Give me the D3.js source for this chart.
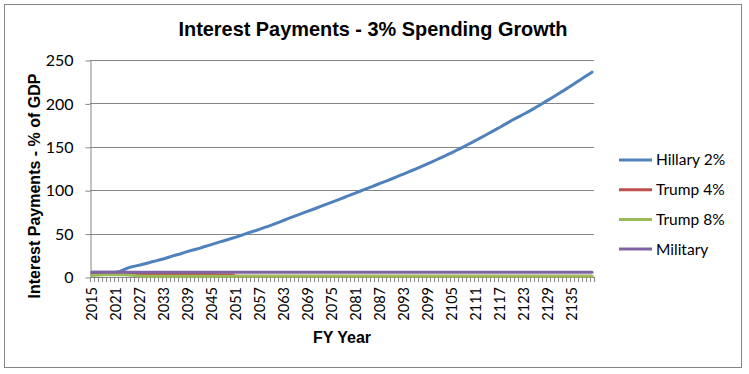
<!DOCTYPE html>
<html>
<head>
<meta charset="utf-8">
<script src="https://cdn.jsdelivr.net/npm/d3@7/dist/d3.min.js"></script>
<style>
 body{margin:0;background:#fff;}
 svg{display:block;}
</style>
</head>
<body>
<div id="chart"></div>
<script>
var years=d3.range(2015,2141);
var yearTicks=[2015,2021,2027,2033,2039,2045,2051,2057,2063,2069,2075,2081,2087,2093,2099,2105,2111,2117,2123,2129,2135];
var valueTicks=[0,50,100,150,200,250];
var seriesNames=["Hillary 2%","Trump 4%","Trump 8%","Military"];
var seriesColors=["#4F81BD","#C0504D","#9BBB59","#8064A2"];

var hillary=[
 5.6,5.5,5.5,5.4,5.5,5.6,5.8,6.5,8.5,10.5,
 11.8,12.8,13.8,15,16.2,17.5,18.6,19.8,21,22.5,
 24,25.3,26.5,28,29.5,30.8,32,33.3,34.8,36.2,
 37.6,39,40.4,41.8,43.2,44.6,46,47.5,49.2,50.8,
 52.2,53.6,55.2,56.8,58.4,60,61.8,63.6,65.4,67.2,
 69,70.7,72.4,74.1,75.8,77.5,79.2,81,82.7,84.5,
 86.3,88,89.8,91.6,93.4,95.2,97,98.8,100.6,102.4,
 104.2,106,107.8,109.6,111.4,113.2,115.1,117,118.9,120.8,
 122.7,124.7,126.7,128.7,130.7,132.7,134.8,136.9,139,141.2,
 143.4,145.7,148,150.3,152.7,155.1,157.5,160,162.5,165,
 167.5,170,172.6,175.2,177.9,180.6,183,185.4,187.8,190.2,
 192.8,195.5,198.2,201,203.8,206.6,209.4,212.2,215,218,
 221,224,227,230,233,236
];
var trump4=[
 3.3,3.4,3.4,3.5,3.5,3.6,3.6,3.7,3.7,3.7,
 3.6,3.6,3.5,3.5,3.4,3.4,3.3,3.3,3.2,3.2,
 3.1,3.1,3.0,3.0,3.0,2.9,2.9,2.9,2.8,2.8,
 2.8,2.7,2.7,2.7,2.6,2.6,0.8,0.8,0.8,0.8,
 0.8,0.8,0.8,0.8,0.8,0.8,0.8,0.8,0.8,0.8,
 0.8,0.8,0.8,0.8,0.8,0.8,0.8,0.8,0.8,0.8,
 0.8,0.8,0.8,0.8,0.8,0.8,0.8,0.8,0.8,0.8,
 0.8,0.8,0.8,0.8,0.8,0.8,0.8,0.8,0.8,0.8,
 0.8,0.8,0.8,0.8,0.8,0.8,0.8,0.8,0.8,0.8,
 0.8,0.8,0.8,0.8,0.8,0.8,0.8,0.8,0.8,0.8,
 0.8,0.8,0.8,0.8,0.8,0.8,0.8,0.8,0.8,0.8,
 0.8,0.8,0.8,0.8,0.8,0.8,0.8,0.8,0.8,0.8,
 0.8,0.8,0.8,0.8,0.8,0.8
];
var trump8=[
 1.6,2.0,2.3,2.5,2.6,2.7,2.7,2.6,2.5,2.3,
 1.9,1.4,1.1,0.9,0.8,0.8,0.8,0.8,0.8,0.8,
 0.8,0.8,0.8,0.8,0.8,0.8,0.8,0.8,0.8,0.8,
 0.8,0.8,0.8,0.8,0.8,0.8,0.8,0.8,0.8,0.8,
 0.8,0.8,0.8,0.8,0.8,0.8,0.8,0.8,0.8,0.8,
 0.8,0.8,0.8,0.8,0.8,0.8,0.8,0.8,0.8,0.8,
 0.8,0.8,0.8,0.8,0.8,0.8,0.8,0.8,0.8,0.8,
 0.8,0.8,0.8,0.8,0.8,0.8,0.8,0.8,0.8,0.8,
 0.8,0.8,0.8,0.8,0.8,0.8,0.8,0.8,0.8,0.8,
 0.8,0.8,0.8,0.8,0.8,0.8,0.8,0.8,0.8,0.8,
 0.8,0.8,0.8,0.8,0.8,0.8,0.8,0.8,0.8,0.8,
 0.8,0.8,0.8,0.8,0.8,0.8,0.8,0.8,0.8,0.8,
 0.8,0.8,0.8,0.8,0.8,0.8
];
var military=[
 5.6,5.6,5.6,5.6,5.6,5.6,5.6,5.6,5.6,5.6,
 5.6,5.6,5.6,5.6,5.6,5.6,5.6,5.6,5.6,5.6,
 5.6,5.6,5.6,5.6,5.6,5.6,5.6,5.6,5.6,5.6,
 5.6,5.6,5.6,5.6,5.6,5.6,5.6,5.6,5.6,5.6,
 5.6,5.6,5.6,5.6,5.6,5.6,5.6,5.6,5.6,5.6,
 5.6,5.6,5.6,5.6,5.6,5.6,5.6,5.6,5.6,5.6,
 5.6,5.6,5.6,5.6,5.6,5.6,5.6,5.6,5.6,5.6,
 5.6,5.6,5.6,5.6,5.6,5.6,5.6,5.6,5.6,5.6,
 5.6,5.6,5.6,5.6,5.6,5.6,5.6,5.6,5.6,5.6,
 5.6,5.6,5.6,5.6,5.6,5.6,5.6,5.6,5.6,5.6,
 5.6,5.6,5.6,5.6,5.6,5.6,5.6,5.6,5.6,5.6,
 5.6,5.6,5.6,5.6,5.6,5.6,5.6,5.6,5.6,5.6,
 5.6,5.6,5.6,5.6,5.6,5.6
];
var seriesValues=[hillary,trump4,trump8,military];

(function()
{
 var W=749,H=374,left=90,right=594,top=60,bottom=277;
 var gray="#868686";
 var svg=d3.select("#chart").append("svg").attr("width",W).attr("height",H);

 // outer chart border
 svg.append("rect").attr("x",4.5).attr("y",4.5).attr("width",737).attr("height",363)
  .attr("fill","#fff").attr("stroke",gray).attr("stroke-width",1);

 var x=d3.scaleBand().domain(years).range([left,right]).padding(0);
 var y=d3.scaleLinear().domain([0,250]).range([bottom,top]);
 var cx=function(yr){return x(yr)+x.bandwidth()/2;};

 // gridlines
 svg.append("g").selectAll("line").data(valueTicks.slice(1)).enter().append("line")
  .attr("x1",left).attr("x2",right).attr("y1",function(d){return Math.round(y(d))+0.5;}).attr("y2",function(d){return Math.round(y(d))+0.5;})
  .attr("stroke",gray).attr("stroke-width",1);

 // y axis
 var ya=svg.append("g").attr("transform","translate("+(left+0.5)+",0.5)")
  .call(d3.axisLeft(y).tickValues(valueTicks).tickSize(5).tickPadding(12).tickSizeOuter(0));
 ya.select(".domain").attr("stroke",gray);
 ya.selectAll(".tick line").attr("stroke",gray);
 ya.selectAll(".tick text").attr("font-family","Lato, sans-serif").attr("font-size","16px").attr("fill","#000");

 // x axis line and category boundary ticks
 svg.append("line").attr("x1",left).attr("x2",right+0.5).attr("y1",bottom+0.5).attr("y2",bottom+0.5).attr("stroke",gray);
 var edges=years.map(function(d){return x(d);}).concat([right]);
 svg.append("g").selectAll("line").data(edges).enter().append("line")
  .attr("x1",function(d){return Math.round(d)+0.5;}).attr("x2",function(d){return Math.round(d)+0.5;})
  .attr("y1",bottom).attr("y2",bottom+5).attr("stroke",gray);

 svg.append("g").selectAll("text").data(yearTicks).enter().append("text")
  .attr("transform",function(d){return "translate("+cx(d)+","+(bottom+10)+") rotate(-90)";})
  .attr("text-anchor","end").attr("dy","0.35em")
  .attr("font-family","Lato, sans-serif").attr("font-size","14.5px").attr("fill","#000")
  .text(function(d){return d;});

 // series
 var line=d3.line().x(function(d,i){return cx(years[i]);}).y(function(d){return y(d);});
 svg.append("g").selectAll("path").data(seriesValues).enter().append("path")
  .attr("d",line).attr("fill","none")
  .attr("stroke",function(d,i){return seriesColors[i];})
  .attr("stroke-width",3).attr("stroke-linejoin","round").attr("stroke-linecap","round");

 // titles
 svg.append("text").attr("x",373).attr("y",36).attr("text-anchor","middle")
  .attr("font-family","Liberation Sans, Arial, sans-serif").attr("font-weight","bold").attr("font-size","19.9px")
  .text("Interest Payments - 3% Spending Growth");
 svg.append("text").attr("x",342).attr("y",343).attr("text-anchor","middle")
  .attr("font-family","Liberation Sans, Arial, sans-serif").attr("font-weight","bold").attr("font-size","16px")
  .text("FY Year");
 svg.append("text").attr("transform","translate(40,186) rotate(-90)").attr("text-anchor","middle")
  .attr("font-family","Liberation Sans, Arial, sans-serif").attr("font-weight","bold").attr("font-size","16px")
  .text("Interest Payments - % of GDP");

 // legend
 var lg=svg.append("g").selectAll("g").data(seriesNames).enter().append("g")
  .attr("transform",function(d,i){return "translate(619,"+(160+i*29.7)+")";});
 lg.append("line").attr("x1",0).attr("x2",33).attr("y1",0).attr("y2",0)
  .attr("stroke",function(d,i){return seriesColors[i];}).attr("stroke-width",3);
 lg.append("text").attr("x",37).attr("dy","0.35em")
  .attr("font-family","Lato, sans-serif").attr("font-size","15.5px").attr("fill","#000")
  .text(function(d){return d;});
})();
</script>
</body>
</html>
